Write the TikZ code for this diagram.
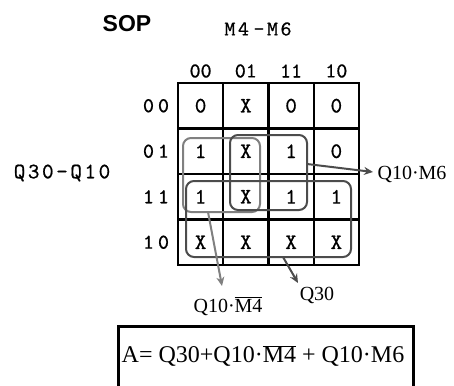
\documentclass[tikz,border=0pt]{standalone}
\usepackage{fontspec}
\setmainfont{Liberation Serif}
\newfontfamily\headsans{Liberation Sans}
\newfontfamily\kmono{lmmono10-regular.otf}[FakeBold=0.7]
\usetikzlibrary{arrows.meta}
\newcommand{\bardot}[1]{\ensuremath{\overline{\hbox{#1}}}}
\begin{document}
\begin{tikzpicture}[x=1pt,y=-1pt,
  gridline/.style={line width=2.3pt},
  outline/.style={line width=2.8pt},
  cell/.style={inner sep=0pt, font=\kmono\fontsize{22}{22}\selectfont},
  colhead/.style={inner sep=0pt, font=\kmono\fontsize{21}{21}\selectfont},
  rowhead/.style={inner sep=0pt, font=\kmono\fontsize{21}{21}\selectfont},
  axis/.style={inner sep=0pt, font=\kmono\fontsize{21}{21}\selectfont},
  loopbox/.style={draw, rounded corners=8pt, line width=2pt, inner sep=0pt},
  lightloop/.style={loopbox, draw=black!50},
  darkloop/.style={loopbox, draw=black!70},
  label/.style={inner sep=0pt, font=\fontsize{20}{20}\selectfont},
  pointer/.style={line width=2pt, -{Stealth[length=9pt,width=8pt]}},
]
\useasboundingbox (0,0) rectangle (454,385);

% titles
\node[inner sep=0pt, font=\headsans\bfseries\fontsize{23}{23}\selectfont] (sop) at (127,23.5) {SOP};
\node[axis] (colvar) at (258,29) {M\kern2.5pt 4\kern4.5pt -\kern2.5pt M\kern2.5pt 6};
\node[axis, font=\kmono\fontsize{22}{22}\selectfont] (rowvar) at (62,173) {Q\kern2.6pt 3\kern2.6pt 0\kern2.6pt -\kern2.6pt Q\kern2.6pt 1\kern2.6pt 0};

% column and row headings
\foreach \c/\a/\b in {0/0/0,1/0/1,2/1/1,3/1/0}
  \node[colhead] (ch\c) at (200.6+45.25*\c,71) {\a\b};
\foreach \r/\a/\b in {0/0/0,1/0/1,2/1/1,3/1/0}
  \node[rowhead] (rh\r) at (156,105.75+45.5*\r) {\a\kern4pt\b};

% map cells
\foreach \r/\row in {0/{0,X,0,0},1/{1,X,1,0},2/{1,X,1,1},3/{X,X,X,X}}{
  \foreach \v [count=\c from 0] in \row
    \node[cell] (m\r\c) at (200.6+45.25*\c,105.75+45.5*\r) {\v};
}

% grid
\foreach \i in {1,2,3}{
  \draw[gridline] (178+45.25*\i,83) -- (178+45.25*\i,265);
  \draw[gridline] (178,83+45.5*\i) -- (359,83+45.5*\i);
}
\draw[outline] (178,83) rectangle (359,265);

% groupings
\node[lightloop, minimum width=77pt, minimum height=74pt] (gm4) at (221.5,175) {};
\node[darkloop, minimum width=77pt, minimum height=75pt] (gm6) at (268.5,172.5) {};
\node[darkloop, minimum width=165pt, minimum height=76pt] (gq30) at (268.5,219) {};

% term labels
\node[label] (lm6) at (412,174) {Q10·M6};
\node[label, anchor=base] (lm4) at (228,312) {Q10·\bardot{M4}};
\node[label, anchor=base] (lq30) at (317,300) {Q30};

% pointers from groups to labels
\coordinate (p4) at (208,212);
\coordinate (p4end) at (222,286);
\coordinate (p6) at (307,164);
\coordinate (p6end) at (373,172);
\coordinate (p30) at (283,257);
\coordinate (p30end) at (298,283);
\draw[pointer, draw=black!50, fill=black!50] (p4) -- (p4end);
\draw[pointer, draw=black!70, fill=black!70] (p6) -- (p6end);
\draw[pointer, draw=black!70, fill=black!70] (p30) -- (p30end);

% result
\node[draw, line width=2.5pt, minimum width=295pt, minimum height=90pt, anchor=north west, inner sep=0pt] (rbox) at (117,325) {};
\node[inner sep=0pt, font=\fontsize{24}{24}\selectfont] (result) at (263,356) {A= Q30+Q10·\bardot{M4} + Q10·M6};
\end{tikzpicture}
\end{document}
